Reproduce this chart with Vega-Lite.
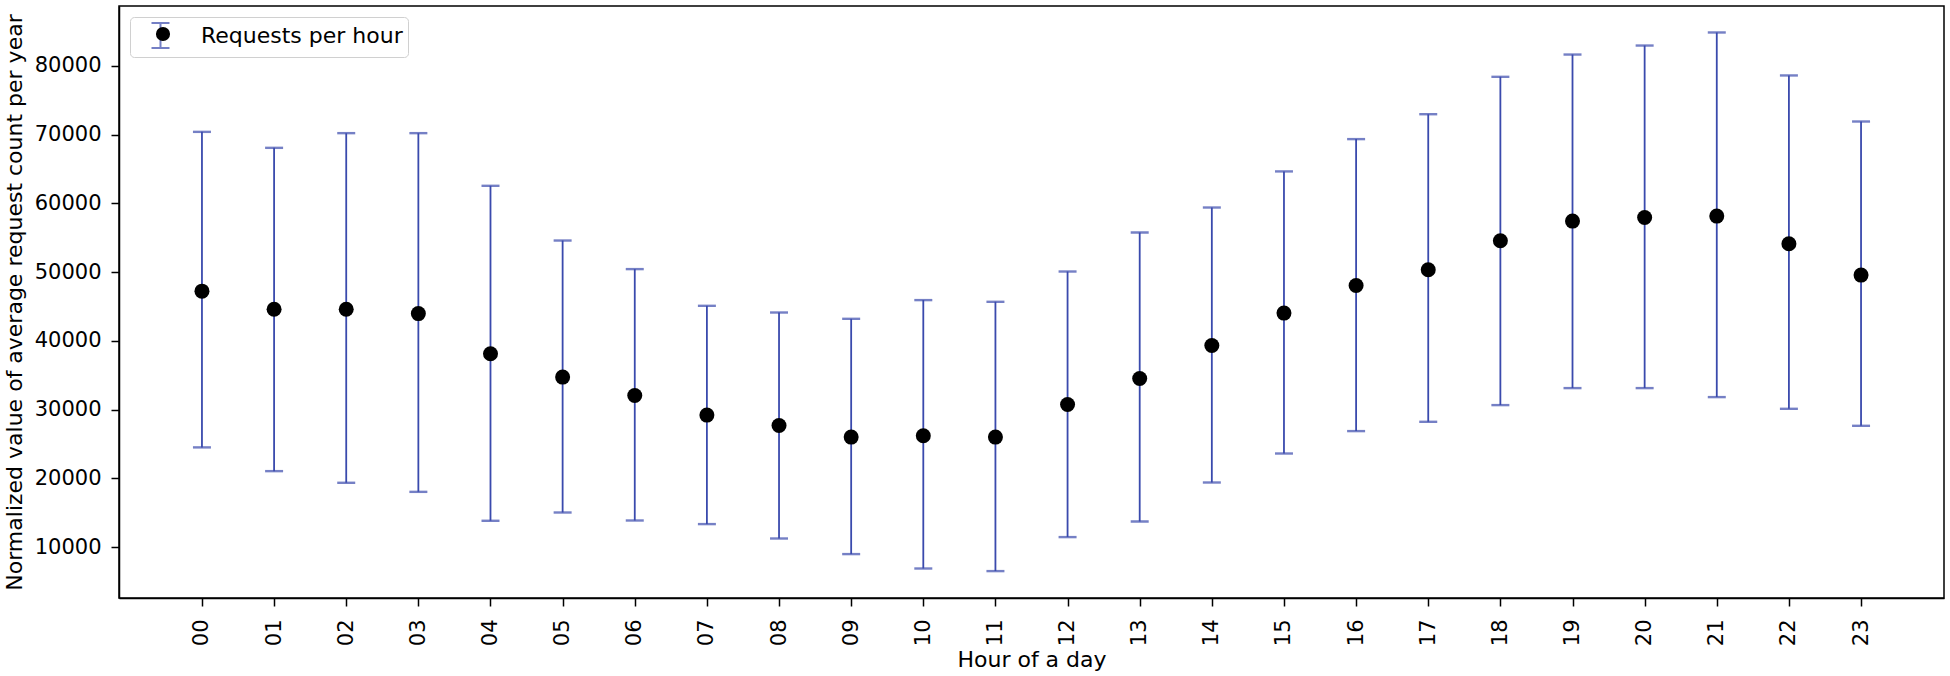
{
  "$schema": "https://vega.github.io/schema/vega-lite/v6.json",
  "autosize": "none",
  "width": 1825,
  "height": 592,
  "padding": {"left": 119, "top": 6, "right": 6, "bottom": 78},
  "background": "white",
  "config": {
    "font": "DejaVu Sans",
    "view": {"stroke": "black", "strokeWidth": 1.5},
    "axis": {"grid": false, "domainColor": "black", "tickColor": "black", "labelColor": "black", "titleColor": "black", "labelFont": "DejaVu Sans", "titleFont": "DejaVu Sans", "labelFontSize": 21, "titleFontSize": 22, "titleFontWeight": "normal", "tickSize": 8, "tickWidth": 1.5, "domainWidth": 1.5}
  },
  "data": {"values": [
    {"hour": 0, "mean": 47230, "lower": 24504, "upper": 70395},
    {"hour": 1, "mean": 44593, "lower": 21051, "upper": 68072},
    {"hour": 2, "mean": 44593, "lower": 19356, "upper": 70207},
    {"hour": 3, "mean": 43965, "lower": 18038, "upper": 70207},
    {"hour": 4, "mean": 38127, "lower": 13831, "upper": 62548},
    {"hour": 5, "mean": 34726, "lower": 15035, "upper": 54590},
    {"hour": 6, "mean": 32051, "lower": 13872, "upper": 50433},
    {"hour": 7, "mean": 29200, "lower": 13348, "upper": 45096},
    {"hour": 8, "mean": 27688, "lower": 11254, "upper": 44122},
    {"hour": 9, "mean": 26000, "lower": 8985, "upper": 43205},
    {"hour": 10, "mean": 26190, "lower": 6890, "upper": 45925},
    {"hour": 11, "mean": 26000, "lower": 6512, "upper": 45678},
    {"hour": 12, "mean": 30742, "lower": 11457, "upper": 50084},
    {"hour": 13, "mean": 34523, "lower": 13726, "upper": 55756},
    {"hour": 14, "mean": 39322, "lower": 19398, "upper": 59392},
    {"hour": 15, "mean": 44034, "lower": 23615, "upper": 64642},
    {"hour": 16, "mean": 48048, "lower": 26873, "upper": 69340},
    {"hour": 17, "mean": 50332, "lower": 28226, "upper": 72961},
    {"hour": 18, "mean": 54549, "lower": 30654, "upper": 78400},
    {"hour": 19, "mean": 57414, "lower": 33127, "upper": 81640},
    {"hour": 20, "mean": 57938, "lower": 33127, "upper": 82950},
    {"hour": 21, "mean": 58141, "lower": 31818, "upper": 84850},
    {"hour": 22, "mean": 54113, "lower": 30116, "upper": 78600},
    {"hour": 23, "mean": 49561, "lower": 27644, "upper": 71900}
  ]},
  "encoding": {
    "x": {"field": "hour", "type": "quantitative", "scale": {"domain": [-1.15, 24.15], "nice": false, "zero": false},
      "axis": {"title": "Hour of a day", "values": [0,1,2,3,4,5,6,7,8,9,10,11,12,13,14,15,16,17,18,19,20,21,22,23], "labelExpr": "datum.value < 10 ? '0' + datum.value : '' + datum.value", "labelAngle": -90, "labelPadding": 13, "titlePadding": 4, "labelBaseline": "middle", "labelAlign": "right", "labelFlush": false, "labelOverlap": false}}
  },
  "layer": [
    {
      "mark": {"type": "rule", "strokeWidth": 1.8},
      "encoding": {
        "y": {"field": "lower", "type": "quantitative", "scale": {"domain": [2600, 88700], "nice": false, "zero": false},
          "axis": {"title": "Normalized value of average request count per year", "values": [10000, 20000, 30000, 40000, 50000, 60000, 70000, 80000], "format": "d", "labelPadding": 10, "titlePadding": 8}},
        "y2": {"field": "upper"},
        "color": {"datum": "Requests per hour", "scale": {"range": ["#3a4aad"]},
          "legend": {"title": null, "orient": "none", "legendX": 11, "legendY": 11, "symbolType": "M-0.72,-1H0.72M0,-1V1M-0.72,1H0.72", "symbolSize": 625, "symbolStrokeWidth": 2, "symbolFillColor": "transparent", "symbolStrokeColor": "#3a4aad", "symbolOpacity": 1, "symbolOffset": 12, "labelFontSize": 22, "labelFont": "DejaVu Sans", "labelColor": "black", "labelOffset": 27, "labelLimit": 400, "padding": 5, "strokeColor": "#d0d0d0", "fillColor": "white", "cornerRadius": 4}}
      }
    },
    {
      "mark": {"type": "tick", "thickness": 2.4, "size": 18, "orient": "horizontal"},
      "encoding": {"y": {"field": "lower", "type": "quantitative"}, "color": {"datum": "Requests per hour"}}
    },
    {
      "mark": {"type": "tick", "thickness": 2.4, "size": 18, "orient": "horizontal"},
      "encoding": {"y": {"field": "upper", "type": "quantitative"}, "color": {"datum": "Requests per hour"}}
    },
    {
      "mark": {"type": "point", "filled": true, "size": 225, "opacity": 1},
      "encoding": {
        "y": {"field": "mean", "type": "quantitative"},
        "fill": {"datum": "Requests per hour (mean)", "scale": {"range": ["black"]},
          "legend": {"title": null, "orient": "none", "legendX": 34, "legendY": 18, "symbolType": "circle", "symbolSize": 200, "symbolFillColor": "black", "symbolStrokeColor": "transparent", "symbolOpacity": 1, "labelFontSize": 20, "labelExpr": "''", "padding": 0}}
      }
    }
  ]
}
